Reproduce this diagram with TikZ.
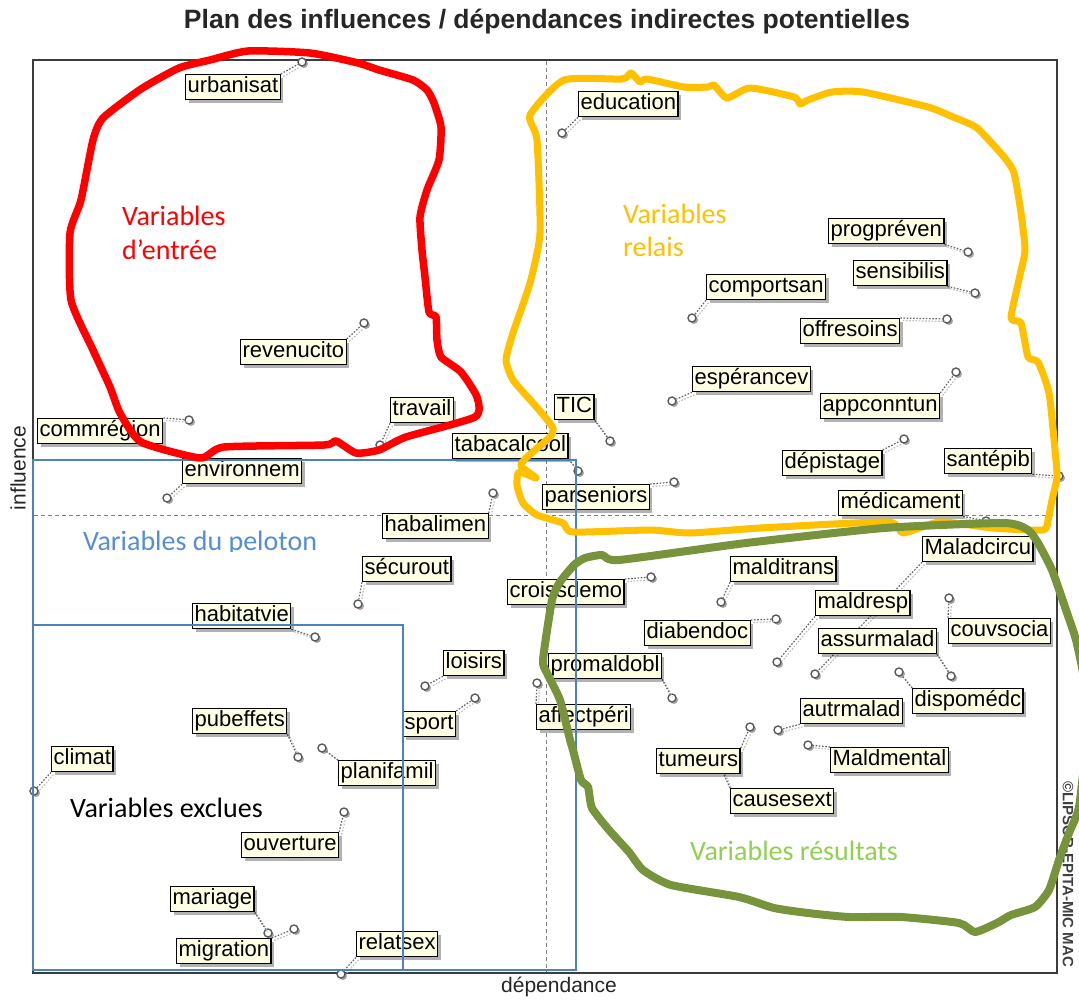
\documentclass[tikz,border=0pt]{standalone}
\usepackage{fontspec}
\setmainfont{Liberation Sans}
\newfontfamily\annotfont{Carlito}
\usetikzlibrary{shadows}
\pgfdeclarelayer{back}
\pgfdeclarelayer{links}
\pgfdeclarelayer{top}
\pgfsetlayers{back,links,main,top}

\definecolor{boxfill}{HTML}{FFFFE4}
\definecolor{framegray}{HTML}{3C3C3C}
\definecolor{entryred}{HTML}{FF0000}
\definecolor{relaygold}{HTML}{FFC000}
\definecolor{resultgreen}{HTML}{77933C}
\definecolor{resulttext}{HTML}{92D050}
\definecolor{pelotonblue}{HTML}{4F81BD}
\definecolor{pelotontext}{HTML}{558ED5}

\tikzset{
  varlabel/.style={draw=black, line width=1.3pt, fill=boxfill, anchor=north west,
    inner xsep=2pt, inner ysep=2pt, text height=16pt, text depth=5pt,
    font=\fontsize{22}{24}\selectfont,
    drop shadow={shadow xshift=3pt, shadow yshift=-3pt, fill=black, opacity=0.3}},
  varpt/.style={circle, draw=black!65, line width=1.4pt, fill=white, inner sep=0pt,
    minimum size=8pt,
    drop shadow={shadow xshift=2pt, shadow yshift=-2pt, fill=black!70, opacity=0.5}},
  link/.style={draw=black!60, line width=1.2pt, dash pattern=on 1.6pt off 1.6pt,
    preaction={draw=black!25, line width=1.2pt, dash pattern=on 1.6pt off 1.6pt,
      transform canvas={shift={(2.5pt,-2.5pt)}}}},
  frameline/.style={draw=framegray, line width=2pt},
  axisline/.style={draw=black!50, line width=0.9pt, dash pattern=on 4pt off 3pt},
  zoneline/.style={line width=7.5pt, line join=round, line cap=round},
  zonebox/.style={draw=pelotonblue, line width=1.6pt},
  zonetext/.style={font=\annotfont\fontsize{28}{34}\selectfont, anchor=base west, inner sep=0pt},
}

\begin{document}
\begin{tikzpicture}[x=1pt, y=-1pt]
\useasboundingbox (0,0) rectangle (1079,999);

% ---------- background, frame and axes ----------
\begin{pgfonlayer}{back}
  \fill[white] (0,0) rectangle (1079,999);
  \draw[axisline] (546,61) -- (546,972);
  \draw[axisline] (34,515) -- (1056,515);
  \draw[frameline] (33,60) rectangle (1057,973);
\end{pgfonlayer}

% ---------- titles ----------
\node[font=\bfseries\fontsize{26.5}{30}\selectfont, text=black!85] (title) at (547,22)
  {Plan des influences / dépendances indirectes potentielles};
\node[font=\fontsize{21}{24}\selectfont, text=black!85, rotate=90] (yaxis) at (18,468) {influence};
\node[font=\fontsize{21}{24}\selectfont, text=black!85, anchor=base] (xaxis) at (559,992) {dépendance};
\node[font=\bfseries\fontsize{15}{17}\selectfont, text=black!75, rotate=-90] (copy) at (1068,874)
  {©LIPSOR-EPITA-MIC MAC};

% ---------- variables ----------
\node[varlabel] (urb)   at (185,74)  {urbanisat};
\node[varlabel] (edu)   at (578,91)  {education};
\node[varlabel] (prog)  at (828,218) {progpréven};
\node[varlabel] (sens)  at (853,260) {sensibilis};
\node[varlabel] (comp)  at (706,274) {comportsan};
\node[varlabel] (offr)  at (800,318) {offresoins};
\node[varlabel] (espe)  at (692,366) {espérancev};
\node[varlabel] (appc)  at (820,393) {appconntun};
\node[varlabel] (tic)   at (554,394) {TIC};
\node[varlabel] (depi)  at (782,450) {dépistage};
\node[varlabel] (sant)  at (944,448) {santépib};
\node[varlabel] (pars)  at (542,484) {parseniors};
\node[varlabel] (taba)  at (452,433) {tabacalcool};
\node[varlabel] (trav)  at (390,397) {travail};
\node[varlabel] (haba)  at (382,513) {habalimen};
\node[varlabel] (reve)  at (240,339) {revenucito};
\node[varlabel] (comm)  at (37,418)  {commrégion};
\node[varlabel] (envi)  at (182,458) {environnem};
\node[varlabel] (habi)  at (192,603) {habitatvie};
\node[varlabel] (secu)  at (362,556) {sécurout};
\node[varlabel] (lois)  at (443,650) {loisirs};
\node[varlabel] (spor)  at (402,711) {sport};
\node[varlabel] (pube)  at (192,708) {pubeffets};
\node[varlabel] (plan)  at (338,760) {planifamil};
\node[varlabel] (clim)  at (51,746)  {climat};
\node[varlabel] (ouve)  at (241,832) {ouverture};
\node[varlabel] (mari)  at (170,886) {mariage};
\node[varlabel] (migr)  at (176,938) {migration};
\node[varlabel] (rela)  at (356,931) {relatsex};
\node[varlabel] (croi)  at (507,579) {croissdemo};
\node[varlabel] (prom)  at (548,653) {promaldobl};
\node[varlabel] (affe)  at (536,704) {affectpéri};
\node[varlabel] (mdtr)  at (730,556) {malditrans};
\node[varlabel] (madc)  at (922,536) {Maladcircu};
\node[varlabel] (mres)  at (815,590) {maldresp};
\node[varlabel] (diab)  at (644,620) {diabendoc};
\node[varlabel] (assu)  at (818,628) {assurmalad};
\node[varlabel] (couv)  at (948,618) {couvsocia};
\node[varlabel] (disp)  at (912,688) {dispomédc};
\node[varlabel] (autr)  at (800,698) {autrmalad};
\node[varlabel] (mmen)  at (830,747) {Maldmental};
\node[varlabel] (tume)  at (656,748) {tumeurs};
\node[varlabel] (caus)  at (730,788) {causesext};
\node[varlabel] (medi)  at (838,490) {médicament};

% ---------- variable positions and their leader lines ----------
\begin{pgfonlayer}{links}
  \node[varpt] (p-urb)  at (302,62)  {};
  \node[varpt] (p-edu)  at (562,133) {};
  \node[varpt] (p-prog) at (968,252) {};
  \node[varpt] (p-sens) at (975,293) {};
  \node[varpt] (p-comp) at (692,318) {};
  \node[varpt] (p-offr) at (947,319) {};
  \node[varpt] (p-espe) at (672,401) {};
  \node[varpt] (p-appc) at (956,372) {};
  \node[varpt] (p-tic)  at (610,441) {};
  \node[varpt] (p-depi) at (904,439) {};
  \node[varpt] (p-sant) at (1059,476) {};
  \node[varpt] (p-pars) at (674,482) {};
  \node[varpt] (p-taba) at (578,471) {};
  \node[varpt] (p-trav) at (380,445) {};
  \node[varpt] (p-haba) at (493,493) {};
  \node[varpt] (p-reve) at (364,323) {};
  \node[varpt] (p-comm) at (189,420) {};
  \node[varpt] (p-envi) at (167,498) {};
  \node[varpt] (p-habi) at (315,637) {};
  \node[varpt] (p-secu) at (358,604) {};
  \node[varpt] (p-lois) at (425,686) {};
  \node[varpt] (p-spor) at (475,698) {};
  \node[varpt] (p-pube) at (298,757) {};
  \node[varpt] (p-plan) at (322,748) {};
  \node[varpt] (p-clim) at (34,791)  {};
  \node[varpt] (p-ouve) at (344,812) {};
  \node[varpt] (p-mari) at (268,933) {};
  \node[varpt] (p-migr) at (294,929) {};
  \node[varpt] (p-rela) at (341,974) {};
  \node[varpt] (p-croi) at (651,577) {};
  \node[varpt] (p-prom) at (672,698) {};
  \node[varpt] (p-affe) at (537,683) {};
  \node[varpt] (p-mdtr) at (721,602) {};
  \node[varpt] (p-madc) at (815,674) {};
  \node[varpt] (p-mres) at (777,662) {};
  \node[varpt] (p-diab) at (776,619) {};
  \node[varpt] (p-assu) at (951,676) {};
  \node[varpt] (p-couv) at (949,598) {};
  \node[varpt] (p-disp) at (899,672) {};
  \node[varpt] (p-autr) at (778,730) {};
  \node[varpt] (p-mmen) at (808,745) {};
  \node[varpt] (p-tume) at (750,727) {};
  \node[varpt] (p-caus) at (720,766) {};
  \node[varpt] (p-medi) at (986,521) {};

  \draw[link] (urb.north east)  -- (p-urb);
  \draw[link] (edu.south west)  -- (p-edu);
  \draw[link] (prog.south east) -- (p-prog);
  \draw[link] (sens.south east) -- (p-sens);
  \draw[link] (comp.south west) -- (p-comp);
  \draw[link] (offr.north east) -- (p-offr);
  \draw[link] (espe.south west) -- (p-espe);
  \draw[link] (appc.north east) -- (p-appc);
  \draw[link] (tic.south east)  -- (p-tic);
  \draw[link] (depi.north east) -- (p-depi);
  \draw[link] (sant.south east) -- (p-sant);
  \draw[link] (pars.north east) -- (p-pars);
  \draw[link] (taba.south east) -- (p-taba);
  \draw[link] (trav.south west) -- (p-trav);
  \draw[link] (haba.north east) -- (p-haba);
  \draw[link] (reve.north east) -- (p-reve);
  \draw[link] (comm.north east) -- (p-comm);
  \draw[link] (envi.south west) -- (p-envi);
  \draw[link] (habi.south east) -- (p-habi);
  \draw[link] (secu.south west) -- (p-secu);
  \draw[link] (lois.south west) -- (p-lois);
  \draw[link] (spor.north east) -- (p-spor);
  \draw[link] (pube.south east) -- (p-pube);
  \draw[link] (plan.north west) -- (p-plan);
  \draw[link] (clim.south west) -- (p-clim);
  \draw[link] (ouve.north east) -- (p-ouve);
  \draw[link] (mari.south east) -- (p-mari);
  \draw[link] (migr.north east) -- (p-migr);
  \draw[link] (rela.south west) -- (p-rela);
  \draw[link] (croi.north east) -- (p-croi);
  \draw[link] (prom.south east) -- (p-prom);
  \draw[link] (affe.north west) -- (p-affe);
  \draw[link] (mdtr.south west) -- (p-mdtr);
  \draw[link] (madc.south west) -- (p-madc);
  \draw[link] (mres.south west) -- (p-mres);
  \draw[link] (diab.north east) -- (p-diab);
  \draw[link] (assu.south east) -- (p-assu);
  \draw[link] (couv.north west) -- (p-couv);
  \draw[link] (disp.north west) -- (p-disp);
  \draw[link] (autr.south west) -- (p-autr);
  \draw[link] (mmen.north west) -- (p-mmen);
  \draw[link] (tume.north east) -- (p-tume);
  \draw[link] (caus.north west) -- (p-caus);
  \draw[link] (medi.south east) -- (p-medi);
\end{pgfonlayer}

% ---------- hand-drawn zones ----------
\begin{pgfonlayer}{top}
  % peloton and excluded variables
  \draw[zonebox] (33,460) rectangle (576,970);
  \draw[zonebox] (33,625) rectangle (403,970);
  \begin{scope}
    \clip (60,515) rectangle (360,551);
    \node[zonetext, text=pelotontext] (tpel) at (83,550) {Variables du peloton};
  \end{scope}
  \node[zonetext, text=black] (texc) at (70,817) {Variables exclues};

  % entry variables
  \draw[zoneline, draw=entryred] plot[smooth cycle, tension=0.35] coordinates {
    (210,60) (248,51) (310,53) (358,63) (379,70) (413,80) (427,90) (434,103)
    (441,127) (439,160) (427,190) (420,217) (422,250) (425,277) (429,312)
    (436,317) (437,340) (441,357) (461,372) (477,397) (475,417) (406,437)
    (379,450) (356,453) (336,441) (324,445) (224,447) (200,458) (141,442)
    (120,413) (110,387) (93,350) (71,300) (70,233) (81,200) (93,140)
    (103,118) (141,89) (179,68)};
  \node[zonetext, text=entryred] (tent1) at (122,225) {Variables};
  \node[zonetext, text=entryred] (tent2) at (122,259) {d’entrée};

  % relay variables
  \draw[zoneline, line width=7pt, draw=relaygold] plot[smooth cycle, tension=0.35] coordinates {
    (530,115) (564,80) (622,79) (631,73) (640,82) (647,79) (684,87) (708,87)
    (714,85) (727,98) (750,88) (794,97) (800,104) (808,100) (832,92) (863,92)
    (928,107) (953,117) (977,128) (1004,157) (1014,173) (1021,213) (1025,250)
    (1020,275) (1011,318) (1021,323) (1028,357) (1038,362) (1049,393)
    (1055,450) (1057,477) (1052,500) (1048,520) (1043,530) (993,528)
    (940,522) (903,533) (887,522) (760,528) (690,533) (650,530) (573,532)
    (563,523) (537,515) (523,503) (517,485) (519,472) (536,478) (521,466)
    (527,457) (550,437) (553,428) (545,417) (533,403) (513,380) (506,360)
    (513,333) (530,283) (540,233) (537,140)};
  \node[zonetext, text=relaygold] (trel1) at (623,223) {Variables};
  \node[zonetext, text=relaygold] (trel2) at (623,256) {relais};

  % result variables
  \draw[zoneline, line width=8pt, draw=resultgreen] plot[smooth cycle, tension=0.35] coordinates {
    (585,558) (602,555) (619,560) (746,543) (884,528) (1004,523) (1028,530)
    (1038,543) (1052,570) (1066,610) (1076,640) (1084,680) (1086,740)
    (1079,807) (1069,833) (1059,860) (1049,890) (1035,907) (1011,915)
    (997,923) (975,932) (959,923) (901,917) (849,917) (808,913) (774,908)
    (739,897) (671,885) (643,870) (629,852) (609,830) (592,808) (588,787)
    (581,780) (573,750) (570,740) (560,700) (547,673) (543,660) (552,600)
    (560,582) (574,565)};
  \node[zonetext, text=resulttext] (tres) at (690,860) {Variables résultats};
\end{pgfonlayer}
\end{tikzpicture}
\end{document}
